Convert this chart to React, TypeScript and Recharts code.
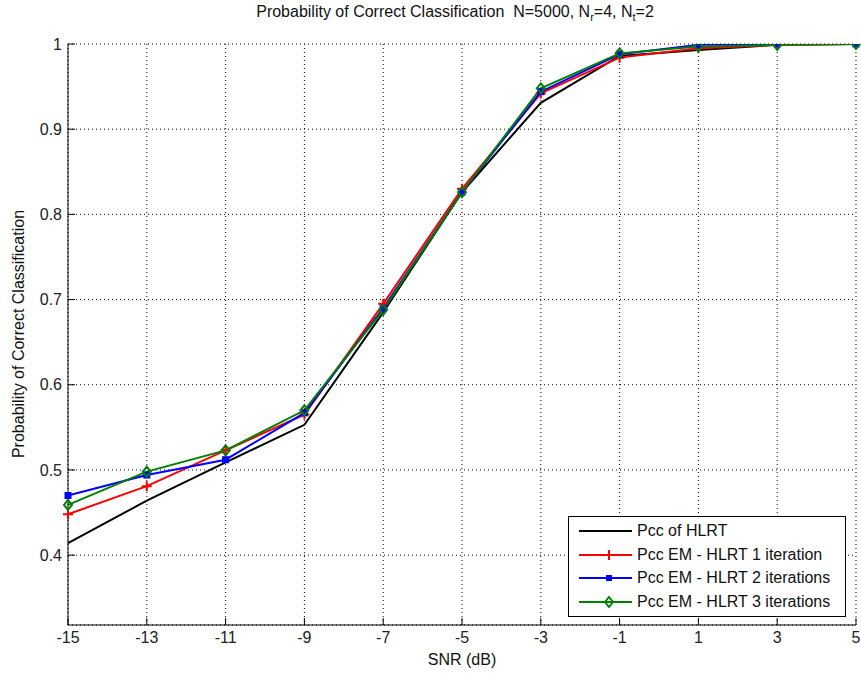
import React from 'react';
import { LineChart, Line, XAxis, YAxis, CartesianGrid, Legend } from 'recharts';

// SNR points (dB) and Pcc values
const snr = [-15, -13, -11, -9, -7, -5, -3, -1, 1, 3, 5];
const pccHlrt = [0.414, 0.464, 0.509, 0.553, 0.685, 0.826, 0.931, 0.986, 0.993, 0.999, 1.0];
const pccEm1 = [0.448, 0.481, 0.523, 0.565, 0.695, 0.83, 0.942, 0.984, 0.995, 0.999, 1.0];
const pccEm2 = [0.47, 0.494, 0.512, 0.567, 0.69, 0.826, 0.944, 0.988, 0.999, 1.0, 1.0];
const pccEm3 = [0.459, 0.498, 0.523, 0.57, 0.688, 0.826, 0.948, 0.989, 0.997, 0.999, 1.0];

const xTicks = [-15, -13, -11, -9, -7, -5, -3, -1, 1, 3, 5];
const yTicks = [0.4, 0.5, 0.6, 0.7, 0.8, 0.9, 1];

const seriesNames = [
  'Pcc of HLRT',
  'Pcc EM - HLRT 1 iteration',
  'Pcc EM - HLRT 2 iterations',
  'Pcc EM - HLRT 3 iterations',
];

const data = snr.map((s, i) => ({
  snr: s,
  hlrt: pccHlrt[i],
  em1: pccEm1[i],
  em2: pccEm2[i],
  em3: pccEm3[i],
}));

const FONT = '"Liberation Sans", Arial, sans-serif';
const Y_DOMAIN: [number, number] = [0.318, 1];

const PlusDot = (props: any) => {
  const { cx, cy, index } = props;
  return (
    <path key={`p${index}`} d={`M${cx - 5},${cy}H${cx + 5}M${cx},${cy - 5}V${cy + 5}`} stroke="#ff0000" strokeWidth={2} fill="none" />
  );
};

const SquareDot = (props: any) => {
  const { cx, cy, index } = props;
  return <rect key={`s${index}`} x={cx - 3} y={cy - 3} width={6} height={6} fill="#0000ff" stroke="#0000ff" />;
};

const DiamondDot = (props: any) => {
  const { cx, cy, index } = props;
  return (
    <path key={`d${index}`} d={`M${cx},${cy - 5}L${cx + 4},${cy}L${cx},${cy + 5}L${cx - 4},${cy}Z`} stroke="#008000" strokeWidth={2} fill="none" />
  );
};

const legendMarkers = [
  null,
  <path d="M32,5V15" stroke="#ff0000" strokeWidth={2} />,
  <rect x={29} y={7} width={6} height={6} fill="#0000ff" />,
  <path d="M32,5L36,10L32,15L28,10Z" stroke="#008000" strokeWidth={2} fill="none" />,
];
const legendColors = ['#000000', '#ff0000', '#0000ff', '#008000'];

const MatlabLegend = () => (
  <div
    style={{
      width: 278,
      height: 101,
      border: '1px solid #000',
      background: '#fff',
      boxSizing: 'border-box',
      padding: '2px 0 0 8px',
      fontFamily: FONT,
      fontSize: 16,
      color: '#111',
    }}
  >
    {seriesNames.map((name, i) => (
      <div key={name} style={{ display: 'flex', alignItems: 'center', height: 23.7 }}>
        <svg width={60} height={20} style={{ flex: 'none' }}>
          <line x1={2} y1={10} x2={55} y2={10} stroke={legendColors[i]} strokeWidth={2} />
          {legendMarkers[i]}
        </svg>
        <span>{name}</span>
      </div>
    ))}
  </div>
);

export default function App() {
  const tickStyle = { fontSize: 16, fill: '#222', fontFamily: FONT };
  return (
    <div style={{ position: 'relative', width: 861, height: 674, background: '#fff' }}>
      <style>{'body{margin:0}'}</style>
      <div
        style={{
          position: 'absolute',
          top: 3,
          left: 0,
          width: 910,
          textAlign: 'center',
          fontFamily: FONT,
          fontSize: 16,
          color: '#111',
          whiteSpace: 'pre',
        }}
      >
        Probability of Correct Classification  N=5000, N<sub style={{ fontSize: 11 }}>r</sub>=4, N
        <sub style={{ fontSize: 11 }}>t</sub>=2
      </div>
      <div
        style={{
          position: 'absolute',
          left: 19,
          top: 334,
          transform: 'translate(-50%, -50%) rotate(-90deg)',
          fontFamily: FONT,
          fontSize: 16,
          color: '#111',
          whiteSpace: 'nowrap',
        }}
      >
        Probability of Correct Classification
      </div>
      <LineChart width={861} height={674} data={data} margin={{ top: 44, right: 5, bottom: 0, left: 0 }}>
        <CartesianGrid stroke="#000" strokeDasharray="1 3" xAxisId="bottom" yAxisId="left" />
        <XAxis
          xAxisId="bottom"
          dataKey="snr"
          type="number"
          domain={[-15, 5]}
          ticks={xTicks}
          height={49}
          tickSize={-7}
          tickMargin={14}
          axisLine={{ stroke: '#000' }}
          tickLine={{ stroke: '#000' }}
          tick={tickStyle}
          label={{ value: 'SNR (dB)', position: 'insideBottom', offset: 9, style: { fontSize: 16, fill: '#111', fontFamily: FONT } }}
        />
        <XAxis
          xAxisId="top"
          orientation="top"
          dataKey="snr"
          type="number"
          domain={[-15, 5]}
          ticks={xTicks}
          height={0}
          tickSize={-7}
          tick={false}
          axisLine={{ stroke: '#000' }}
          tickLine={{ stroke: '#000' }}
          allowDataOverflow
        />
        <YAxis
          yAxisId="left"
          type="number"
          domain={Y_DOMAIN}
          ticks={yTicks}
          width={68}
          tickSize={-7}
          tickMargin={13}
          axisLine={{ stroke: '#000' }}
          tickLine={{ stroke: '#000' }}
          tick={tickStyle}
          allowDataOverflow
          tickFormatter={(v: number) => (v === 1 ? '1' : v.toFixed(1))}
        />
        <YAxis
          yAxisId="right"
          orientation="right"
          type="number"
          domain={Y_DOMAIN}
          ticks={yTicks}
          width={0}
          tickSize={-7}
          tick={false}
          axisLine={{ stroke: '#000' }}
          tickLine={{ stroke: '#000' }}
          allowDataOverflow
        />
        <Legend
          layout="vertical"
          align="center"
          verticalAlign="middle"
          content={() => <MatlabLegend />}
          wrapperStyle={{ left: 568, top: 516, width: 278, height: 101 }}
        />
        <Line xAxisId="bottom" yAxisId="left" dataKey="hlrt" name={seriesNames[0]} stroke="#000000" strokeWidth={2} dot={false} isAnimationActive={false} />
        <Line xAxisId="bottom" yAxisId="left" dataKey="em1" name={seriesNames[1]} stroke="#ff0000" strokeWidth={2} dot={PlusDot} isAnimationActive={false} />
        <Line xAxisId="bottom" yAxisId="left" dataKey="em2" name={seriesNames[2]} stroke="#0000ff" strokeWidth={2} dot={SquareDot} isAnimationActive={false} />
        <Line xAxisId="bottom" yAxisId="left" dataKey="em3" name={seriesNames[3]} stroke="#008000" strokeWidth={2} dot={DiamondDot} isAnimationActive={false} />
      </LineChart>
    </div>
  );
}
